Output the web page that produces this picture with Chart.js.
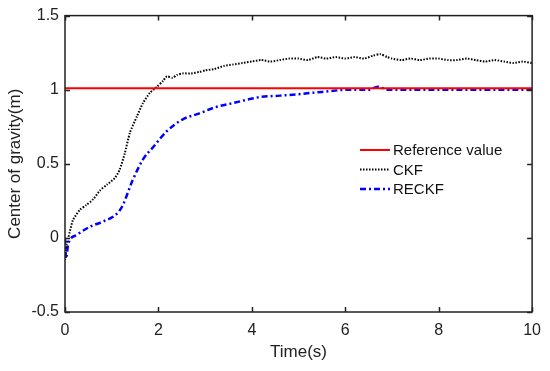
<!DOCTYPE html>
<html>
<head>
<meta charset="utf-8">
<script src="https://cdn.jsdelivr.net/npm/chart.js@4"></script>
<style>
  html, body { margin: 0; padding: 0; background: #fff; }
  #wrap { width: 550px; height: 371px; }
</style>
</head>
<body>
<div id="wrap"><canvas id="cog" width="550" height="371"></canvas></div>
<script>
// --- data ---
const refTime = [0, 10];
const refValue = [1.01, 1.01];

const ckfTime = [0, 0.03, 0.07, 0.17, 0.32, 0.45, 0.6, 0.75, 0.9, 1.07,
    1.17, 1.28, 1.39, 1.54, 1.67, 1.82, 1.97, 2.1, 2.18, 2.3,
    2.4, 2.52, 2.7, 2.88, 3.0, 3.2, 3.4, 3.6, 3.8, 4.0,
    4.2, 4.4, 4.6, 4.8, 5.0, 5.2, 5.4, 5.6, 5.8, 6.0,
    6.2, 6.4, 6.6, 6.75, 6.9, 7.0, 7.2, 7.4, 7.6, 7.8,
    8.0, 8.2, 8.4, 8.6, 8.8, 9.0, 9.2, 9.4, 9.6, 9.8, 10];
const ckfValue = [-0.15, -0.05, 0.0, 0.12, 0.19, 0.22, 0.26, 0.32, 0.36, 0.405,
    0.46, 0.57, 0.71, 0.82, 0.91, 0.98, 1.02, 1.06, 1.09, 1.08,
    1.10, 1.11, 1.11, 1.12, 1.13, 1.14, 1.16, 1.17, 1.18, 1.19,
    1.20, 1.19, 1.20, 1.21, 1.21, 1.20, 1.22, 1.21, 1.22, 1.21,
    1.22, 1.21, 1.23, 1.24, 1.22, 1.21, 1.20, 1.21, 1.20, 1.21,
    1.21, 1.20, 1.20, 1.21, 1.20, 1.19, 1.20, 1.19, 1.18, 1.19, 1.18];

const reckfTime = [0, 0.02, 0.07, 0.25, 0.53, 0.81, 1.1, 1.22, 1.45, 1.67,
    1.88, 2.18, 2.52, 2.88, 3.2, 3.6, 4.17, 4.6, 5.0, 5.5,
    6.1, 6.5, 6.7, 6.9, 7.5, 8, 9, 10];
const reckfValue = [0.0, -0.14, -0.04, 0.02, 0.075, 0.11, 0.16, 0.21, 0.39, 0.53,
    0.61, 0.72, 0.80, 0.84, 0.88, 0.91, 0.95, 0.96, 0.97, 0.985,
    1.0, 1.0, 1.02, 1.0, 1.0, 1.0, 1.0, 1.0];

const xTicks = [0, 2, 4, 6, 8, 10];
const yTicks = [-0.5, 0, 0.5, 1, 1.5];

const FONT = '"Liberation Sans", Arial, sans-serif';
const toPoints = (xs, ys) => xs.map((x, i) => ({ x: x, y: ys[i] }));

// box round the plot, inward ticks and the legend
const boxPlugin = {
    id: 'box',
    afterDraw(chart) {
        const ctx = chart.ctx;
        const a = chart.chartArea;
        const xs = chart.scales.x, ys = chart.scales.y;
        ctx.save();
        ctx.strokeStyle = '#222';
        ctx.lineWidth = 1.5;
        ctx.strokeRect(a.left, a.top, a.right - a.left, a.bottom - a.top);
        ctx.beginPath();
        xTicks.forEach(v => {
            const px = Math.round(xs.getPixelForValue(v)) + 0.5;
            ctx.moveTo(px, a.bottom); ctx.lineTo(px, a.bottom - 5);
            ctx.moveTo(px, a.top); ctx.lineTo(px, a.top + 5);
        });
        yTicks.forEach(v => {
            const py = Math.round(ys.getPixelForValue(v)) + 0.5;
            ctx.moveTo(a.left, py); ctx.lineTo(a.left + 5, py);
            ctx.moveTo(a.right, py); ctx.lineTo(a.right - 5, py);
        });
        ctx.stroke();

        // legend
        const lx = 360, ly = 150, rowH = 19.5;
        ctx.font = '15px ' + FONT;
        ctx.textBaseline = 'middle';
        ctx.fillStyle = '#111';
        chart.data.datasets.forEach((ds, i) => {
            const y = ly + i * rowH;
            ctx.beginPath();
            ctx.strokeStyle = ds.borderColor;
            ctx.lineWidth = ds.borderWidth;
            ctx.setLineDash(ds.borderDash || []);
            ctx.moveTo(lx, y); ctx.lineTo(lx + 30, y);
            ctx.stroke();
            ctx.setLineDash([]);
            ctx.fillText(ds.label, lx + 33, y + 1);
        });
        ctx.restore();
    }
};

const ctx = document.getElementById('cog').getContext('2d');
new Chart(ctx, {
    type: 'line',
    data: {
        datasets: [
            {
                label: 'Reference value',
                data: toPoints(refTime, refValue),
                borderColor: '#ff0000',
                borderWidth: 2,
                pointRadius: 0
            },
            {
                label: 'CKF',
                data: toPoints(ckfTime, ckfValue),
                borderColor: '#000000',
                borderWidth: 2,
                borderDash: [1.5, 1.5],
                pointRadius: 0,
                tension: 0.2
            },
            {
                label: 'RECKF',
                data: toPoints(reckfTime, reckfValue),
                borderColor: '#0000ff',
                borderWidth: 2.5,
                borderDash: [6, 3, 2, 3],
                pointRadius: 0,
                cubicInterpolationMode: 'monotone'
            }
        ]
    },
    options: {
        responsive: false,
        animation: false,
        devicePixelRatio: 1,
        layout: { padding: { top: 15, right: 17, left: 0, bottom: 0 } },
        plugins: {
            legend: { display: false },
            tooltip: { enabled: false }
        },
        scales: {
            x: {
                type: 'linear',
                min: 0, max: 10,
                afterBuildTicks: s => { s.ticks = xTicks.map(v => ({ value: v })); },
                afterFit: s => { s.height = 59; },
                grid: { display: false, drawTicks: false },
                border: { display: false },
                ticks: {
                    padding: 9,
                    color: '#222',
                    font: { family: FONT, size: 16 }
                },
                title: {
                    display: true,
                    text: 'Time(s)',
                    color: '#222',
                    padding: { top: 0, bottom: 8 },
                    font: { family: FONT, size: 17 }
                }
            },
            y: {
                min: -0.5, max: 1.5,
                afterBuildTicks: s => { s.ticks = yTicks.map(v => ({ value: v })); },
                afterFit: s => { s.width = 65; },
                grid: { display: false, drawTicks: false },
                border: { display: false },
                ticks: {
                    padding: 6,
                    color: '#222',
                    font: { family: FONT, size: 16 },
                    callback: v => String(v)
                },
                title: {
                    display: true,
                    text: 'Center of gravity(m)',
                    color: '#222',
                    padding: { top: 5, bottom: 0 },
                    font: { family: FONT, size: 17 }
                }
            }
        }
    },
    plugins: [boxPlugin]
});
</script>
</body>
</html>
